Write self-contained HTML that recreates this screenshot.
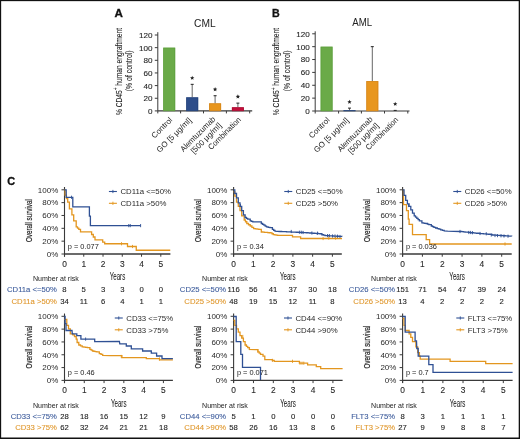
<!DOCTYPE html>
<html><head><meta charset="utf-8"><style>
html,body{margin:0;padding:0;background:#fff;}
body{width:520px;height:439px;overflow:hidden;}
svg{display:block;will-change:transform;font-family:"Liberation Sans",sans-serif;}
</style></head><body>
<svg width="520" height="439" viewBox="0 0 520 439">
<rect x="0" y="0" width="520" height="439" fill="#fff"/>
<text transform="translate(114.60,16.90) scale(1.0770,1)" font-size="10.8" text-anchor="start" fill="#111" font-weight="bold" stroke="#111" stroke-width="0.3">A</text>
<text transform="translate(194.10,26.50) scale(0.9933,1)" font-size="10.3" text-anchor="start" fill="#222">CML</text>
<line x1="157.80" y1="32.20" x2="157.80" y2="113.40" stroke="#3a3a3a" stroke-width="1"/>
<line x1="154.80" y1="110.90" x2="157.80" y2="110.90" stroke="#3a3a3a" stroke-width="1"/>
<text transform="translate(152.40,113.80)" font-size="8.1" text-anchor="end" fill="#2a2a2a" stroke="#222" stroke-width="0.12">0</text>
<line x1="154.80" y1="98.25" x2="157.80" y2="98.25" stroke="#3a3a3a" stroke-width="1"/>
<text transform="translate(152.40,101.15)" font-size="8.1" text-anchor="end" fill="#2a2a2a" stroke="#222" stroke-width="0.12">20</text>
<line x1="154.80" y1="85.60" x2="157.80" y2="85.60" stroke="#3a3a3a" stroke-width="1"/>
<text transform="translate(152.40,88.50)" font-size="8.1" text-anchor="end" fill="#2a2a2a" stroke="#222" stroke-width="0.12">40</text>
<line x1="154.80" y1="72.95" x2="157.80" y2="72.95" stroke="#3a3a3a" stroke-width="1"/>
<text transform="translate(152.40,75.85)" font-size="8.1" text-anchor="end" fill="#2a2a2a" stroke="#222" stroke-width="0.12">60</text>
<line x1="154.80" y1="60.30" x2="157.80" y2="60.30" stroke="#3a3a3a" stroke-width="1"/>
<text transform="translate(152.40,63.20)" font-size="8.1" text-anchor="end" fill="#2a2a2a" stroke="#222" stroke-width="0.12">80</text>
<line x1="154.80" y1="47.65" x2="157.80" y2="47.65" stroke="#3a3a3a" stroke-width="1"/>
<text transform="translate(152.40,50.55)" font-size="8.1" text-anchor="end" fill="#2a2a2a" stroke="#222" stroke-width="0.12">100</text>
<line x1="154.80" y1="35.00" x2="157.80" y2="35.00" stroke="#3a3a3a" stroke-width="1"/>
<text transform="translate(152.40,37.90)" font-size="8.1" text-anchor="end" fill="#2a2a2a" stroke="#222" stroke-width="0.12">120</text>
<line x1="157.80" y1="110.90" x2="252.20" y2="110.90" stroke="#3a3a3a" stroke-width="1.2"/>
<line x1="180.60" y1="110.90" x2="180.60" y2="113.40" stroke="#3a3a3a" stroke-width="1"/>
<line x1="203.50" y1="110.90" x2="203.50" y2="113.40" stroke="#3a3a3a" stroke-width="1"/>
<line x1="226.40" y1="110.90" x2="226.40" y2="113.40" stroke="#3a3a3a" stroke-width="1"/>
<line x1="249.70" y1="110.90" x2="249.70" y2="113.40" stroke="#3a3a3a" stroke-width="1"/>
<rect x="163.20" y="47.65" width="12.00" height="63.25" fill="#6aaa48"/>
<rect x="163.60" y="48.05" width="11.2" height="62.85" fill="none" stroke="#559a35" stroke-width="0.8" opacity="0.6"/>
<line x1="192.20" y1="84.34" x2="192.20" y2="97.30" stroke="#555" stroke-width="0.9"/>
<line x1="190.70" y1="84.34" x2="193.70" y2="84.34" stroke="#222" stroke-width="1"/>
<rect x="186.20" y="97.30" width="12.00" height="13.60" fill="#2d4d8a"/>
<rect x="186.60" y="97.70" width="11.2" height="13.20" fill="none" stroke="#1c3a70" stroke-width="0.8" opacity="0.6"/>
<polygon points="192.20,75.70 192.81,77.16 194.39,77.29 193.18,78.32 193.55,79.86 192.20,79.03 190.85,79.86 191.22,78.32 190.01,77.29 191.59,77.16" fill="#222"/>
<line x1="215.10" y1="95.72" x2="215.10" y2="103.31" stroke="#555" stroke-width="0.9"/>
<line x1="213.60" y1="95.72" x2="216.60" y2="95.72" stroke="#222" stroke-width="1"/>
<rect x="209.10" y="103.31" width="12.00" height="7.59" fill="#e8961e"/>
<rect x="209.50" y="103.71" width="11.2" height="7.19" fill="none" stroke="#c87a10" stroke-width="0.8" opacity="0.6"/>
<polygon points="215.10,87.10 215.71,88.56 217.29,88.69 216.08,89.72 216.45,91.26 215.10,90.44 213.75,91.26 214.12,89.72 212.91,88.69 214.49,88.56" fill="#222"/>
<line x1="237.90" y1="103.12" x2="237.90" y2="107.23" stroke="#555" stroke-width="0.9"/>
<line x1="236.40" y1="103.12" x2="239.40" y2="103.12" stroke="#222" stroke-width="1"/>
<rect x="231.90" y="107.23" width="12.00" height="3.67" fill="#c20f3b"/>
<rect x="232.30" y="107.63" width="11.2" height="3.27" fill="none" stroke="#9a0a2c" stroke-width="0.8" opacity="0.6"/>
<polygon points="237.90,94.30 238.51,95.76 240.09,95.89 238.88,96.92 239.25,98.46 237.90,97.63 236.55,98.46 236.92,96.92 235.71,95.89 237.29,95.76" fill="#222"/>
<text transform="translate(121.80,115.10) rotate(-90) scale(0.7187,1)" font-size="9.3" fill="#222" stroke="#222" stroke-width="0.1">% CD45<tspan font-size="6.5" dy="-3.6">+</tspan><tspan dy="3.6"> human engraftment</tspan></text>
<text transform="translate(132.30,70.80) rotate(-90) scale(0.7396,1)" font-size="9.3" text-anchor="middle" fill="#222" stroke="#222" stroke-width="0.1">(% of control)</text>
<text transform="translate(172.80,120.50) rotate(-45)" font-size="8.0" text-anchor="end" fill="#222">Control</text>
<text transform="translate(192.00,120.80) rotate(-45)" font-size="8.0" text-anchor="end" fill="#222">GO [5 μg/ml]</text>
<text transform="translate(215.90,119.70) rotate(-45) scale(0.9400,1)" font-size="8.0" text-anchor="end" fill="#222">Alemtuzumab</text>
<text transform="translate(222.15,125.95) rotate(-45)" font-size="8.0" text-anchor="end" fill="#222">[500 μg/ml]</text>
<text transform="translate(241.50,120.20) rotate(-45) scale(0.9500,1)" font-size="8.0" text-anchor="end" fill="#222">Combination</text>
<text transform="translate(271.90,16.60) scale(0.9872,1)" font-size="10.8" text-anchor="start" fill="#111" font-weight="bold" stroke="#111" stroke-width="0.3">B</text>
<text transform="translate(352.30,25.90) scale(0.9397,1)" font-size="10.3" text-anchor="start" fill="#222">AML</text>
<line x1="315.20" y1="31.30" x2="315.20" y2="113.50" stroke="#3a3a3a" stroke-width="1"/>
<line x1="312.20" y1="111.00" x2="315.20" y2="111.00" stroke="#3a3a3a" stroke-width="1"/>
<text transform="translate(309.80,113.90)" font-size="8.1" text-anchor="end" fill="#2a2a2a" stroke="#222" stroke-width="0.12">0</text>
<line x1="312.20" y1="98.13" x2="315.20" y2="98.13" stroke="#3a3a3a" stroke-width="1"/>
<text transform="translate(309.80,101.03)" font-size="8.1" text-anchor="end" fill="#2a2a2a" stroke="#222" stroke-width="0.12">20</text>
<line x1="312.20" y1="85.27" x2="315.20" y2="85.27" stroke="#3a3a3a" stroke-width="1"/>
<text transform="translate(309.80,88.17)" font-size="8.1" text-anchor="end" fill="#2a2a2a" stroke="#222" stroke-width="0.12">40</text>
<line x1="312.20" y1="72.40" x2="315.20" y2="72.40" stroke="#3a3a3a" stroke-width="1"/>
<text transform="translate(309.80,75.30)" font-size="8.1" text-anchor="end" fill="#2a2a2a" stroke="#222" stroke-width="0.12">60</text>
<line x1="312.20" y1="59.53" x2="315.20" y2="59.53" stroke="#3a3a3a" stroke-width="1"/>
<text transform="translate(309.80,62.43)" font-size="8.1" text-anchor="end" fill="#2a2a2a" stroke="#222" stroke-width="0.12">80</text>
<line x1="312.20" y1="46.67" x2="315.20" y2="46.67" stroke="#3a3a3a" stroke-width="1"/>
<text transform="translate(309.80,49.57)" font-size="8.1" text-anchor="end" fill="#2a2a2a" stroke="#222" stroke-width="0.12">100</text>
<line x1="312.20" y1="33.80" x2="315.20" y2="33.80" stroke="#3a3a3a" stroke-width="1"/>
<text transform="translate(309.80,36.70)" font-size="8.1" text-anchor="end" fill="#2a2a2a" stroke="#222" stroke-width="0.12">120</text>
<line x1="315.20" y1="111.00" x2="409.50" y2="111.00" stroke="#3a3a3a" stroke-width="1.2"/>
<line x1="338.60" y1="111.00" x2="338.60" y2="113.50" stroke="#3a3a3a" stroke-width="1"/>
<line x1="361.40" y1="111.00" x2="361.40" y2="113.50" stroke="#3a3a3a" stroke-width="1"/>
<line x1="384.50" y1="111.00" x2="384.50" y2="113.50" stroke="#3a3a3a" stroke-width="1"/>
<line x1="407.80" y1="111.00" x2="407.80" y2="113.50" stroke="#3a3a3a" stroke-width="1"/>
<rect x="320.60" y="46.67" width="12.00" height="64.33" fill="#6aaa48"/>
<rect x="321.00" y="47.07" width="11.2" height="63.93" fill="none" stroke="#559a35" stroke-width="0.8" opacity="0.6"/>
<line x1="349.50" y1="108.11" x2="349.50" y2="110.23" stroke="#555" stroke-width="0.9"/>
<line x1="348.00" y1="108.11" x2="351.00" y2="108.11" stroke="#222" stroke-width="1"/>
<rect x="343.50" y="110.23" width="12.00" height="0.77" fill="#2d4d8a"/>
<rect x="343.90" y="110.63" width="11.2" height="0.37" fill="none" stroke="#1c3a70" stroke-width="0.8" opacity="0.6"/>
<polygon points="349.50,99.70 350.11,101.16 351.69,101.29 350.48,102.32 350.85,103.86 349.50,103.03 348.15,103.86 348.52,102.32 347.31,101.29 348.89,101.16" fill="#222"/>
<line x1="372.30" y1="46.67" x2="372.30" y2="81.09" stroke="#555" stroke-width="0.9"/>
<line x1="370.80" y1="46.67" x2="373.80" y2="46.67" stroke="#222" stroke-width="1"/>
<rect x="366.30" y="81.09" width="12.00" height="29.91" fill="#e8961e"/>
<rect x="366.70" y="81.49" width="11.2" height="29.52" fill="none" stroke="#c87a10" stroke-width="0.8" opacity="0.6"/>
<line x1="393.70" y1="110.40" x2="396.70" y2="110.40" stroke="#222" stroke-width="1"/>
<polygon points="395.20,101.70 395.81,103.16 397.39,103.29 396.18,104.32 396.55,105.86 395.20,105.03 393.85,105.86 394.22,104.32 393.01,103.29 394.59,103.16" fill="#222"/>
<text transform="translate(279.20,115.20) rotate(-90) scale(0.7187,1)" font-size="9.3" fill="#222" stroke="#222" stroke-width="0.1">% CD45<tspan font-size="6.5" dy="-3.6">+</tspan><tspan dy="3.6"> human engraftment</tspan></text>
<text transform="translate(289.70,70.80) rotate(-90) scale(0.7396,1)" font-size="9.3" text-anchor="middle" fill="#222" stroke="#222" stroke-width="0.1">(% of control)</text>
<text transform="translate(330.20,120.60) rotate(-45)" font-size="8.0" text-anchor="end" fill="#222">Control</text>
<text transform="translate(349.30,120.90) rotate(-45)" font-size="8.0" text-anchor="end" fill="#222">GO [5 μg/ml]</text>
<text transform="translate(373.10,119.80) rotate(-45) scale(0.9400,1)" font-size="8.0" text-anchor="end" fill="#222">Alemtuzumab</text>
<text transform="translate(379.35,126.05) rotate(-45)" font-size="8.0" text-anchor="end" fill="#222">[500 μg/ml]</text>
<text transform="translate(398.80,120.30) rotate(-45) scale(0.9500,1)" font-size="8.0" text-anchor="end" fill="#222">Combination</text>
<text transform="translate(7.30,184.70) scale(1.0129,1)" font-size="10.8" text-anchor="start" fill="#111" font-weight="bold" stroke="#111" stroke-width="0.3">C</text>
<line x1="64.50" y1="187.00" x2="64.50" y2="256.70" stroke="#3a3a3a" stroke-width="1.1"/>
<line x1="61.50" y1="254.00" x2="64.50" y2="254.00" stroke="#3a3a3a" stroke-width="1"/>
<text transform="translate(58.30,256.80)" font-size="8.0" text-anchor="end" fill="#2a2a2a">0%</text>
<line x1="61.50" y1="241.16" x2="64.50" y2="241.16" stroke="#3a3a3a" stroke-width="1"/>
<text transform="translate(58.30,243.96)" font-size="8.0" text-anchor="end" fill="#2a2a2a">20%</text>
<line x1="61.50" y1="228.32" x2="64.50" y2="228.32" stroke="#3a3a3a" stroke-width="1"/>
<text transform="translate(58.30,231.12)" font-size="8.0" text-anchor="end" fill="#2a2a2a">40%</text>
<line x1="61.50" y1="215.48" x2="64.50" y2="215.48" stroke="#3a3a3a" stroke-width="1"/>
<text transform="translate(58.30,218.28)" font-size="8.0" text-anchor="end" fill="#2a2a2a">60%</text>
<line x1="61.50" y1="202.64" x2="64.50" y2="202.64" stroke="#3a3a3a" stroke-width="1"/>
<text transform="translate(58.30,205.44)" font-size="8.0" text-anchor="end" fill="#2a2a2a">80%</text>
<line x1="61.50" y1="189.80" x2="64.50" y2="189.80" stroke="#3a3a3a" stroke-width="1"/>
<text transform="translate(58.30,192.60)" font-size="8.0" text-anchor="end" fill="#2a2a2a">100%</text>
<line x1="64.50" y1="254.00" x2="170.40" y2="254.00" stroke="#3a3a3a" stroke-width="1.3"/>
<line x1="64.50" y1="254.00" x2="64.50" y2="256.70" stroke="#3a3a3a" stroke-width="1"/>
<text transform="translate(64.50,267.00)" font-size="8.4" text-anchor="middle" fill="#2a2a2a" stroke="#222" stroke-width="0.1">0</text>
<line x1="83.76" y1="254.00" x2="83.76" y2="256.70" stroke="#3a3a3a" stroke-width="1"/>
<text transform="translate(83.76,267.00)" font-size="8.4" text-anchor="middle" fill="#2a2a2a" stroke="#222" stroke-width="0.1">1</text>
<line x1="103.02" y1="254.00" x2="103.02" y2="256.70" stroke="#3a3a3a" stroke-width="1"/>
<text transform="translate(103.02,267.00)" font-size="8.4" text-anchor="middle" fill="#2a2a2a" stroke="#222" stroke-width="0.1">2</text>
<line x1="122.28" y1="254.00" x2="122.28" y2="256.70" stroke="#3a3a3a" stroke-width="1"/>
<text transform="translate(122.28,267.00)" font-size="8.4" text-anchor="middle" fill="#2a2a2a" stroke="#222" stroke-width="0.1">3</text>
<line x1="141.54" y1="254.00" x2="141.54" y2="256.70" stroke="#3a3a3a" stroke-width="1"/>
<text transform="translate(141.54,267.00)" font-size="8.4" text-anchor="middle" fill="#2a2a2a" stroke="#222" stroke-width="0.1">4</text>
<line x1="160.80" y1="254.00" x2="160.80" y2="256.70" stroke="#3a3a3a" stroke-width="1"/>
<text transform="translate(160.80,267.00)" font-size="8.4" text-anchor="middle" fill="#2a2a2a" stroke="#222" stroke-width="0.1">5</text>
<text transform="translate(31.50,220.60) rotate(-90) scale(0.6839,1)" font-size="9.2" text-anchor="middle" fill="#222" stroke="#222" stroke-width="0.18">Overall survival</text>
<text transform="translate(117.45,280.30) scale(0.6068,1)" font-size="10.2" text-anchor="middle" fill="#222" stroke="#222" stroke-width="0.05">Years</text>
<text transform="translate(33.00,281.20) scale(0.9032,1)" font-size="7.8" text-anchor="start" fill="#222">Number at risk</text>
<polyline points="64.50,189.80 65.10,189.80 65.10,195.20 66.40,195.20 66.40,198.65 67.70,198.65 67.70,202.10 69.40,202.10 69.40,208.90 71.90,208.90 71.90,214.90 73.70,214.90 73.70,220.80 76.20,220.80 76.20,226.80 77.50,226.80 77.50,228.10 78.80,228.10 78.80,229.40 80.50,229.40 80.50,231.90 89.90,231.90 91.60,231.90 91.60,234.50 93.30,234.50 93.30,237.00 95.00,237.00 95.00,239.90 101.00,239.90 102.70,239.90 102.70,242.20 104.70,242.20 104.70,243.75 127.50,243.75 127.50,246.50 136.25,246.50 136.25,250.25 170.25,250.25" fill="none" stroke="#e3961f" stroke-width="1.3" stroke-linejoin="miter"/>
<polyline points="64.50,189.80 66.20,189.80 66.20,197.30 72.80,197.30 72.80,206.80 89.40,206.80 89.40,216.20 90.40,216.20 90.40,225.60 140.60,225.60" fill="none" stroke="#2f5094" stroke-width="1.3" stroke-linejoin="miter"/>
<line x1="121.50" y1="242.15" x2="121.50" y2="245.35" stroke="#e3961f" stroke-width="0.9"/>
<line x1="132.50" y1="244.90" x2="132.50" y2="248.10" stroke="#e3961f" stroke-width="0.9"/>
<line x1="71.50" y1="195.70" x2="71.50" y2="198.90" stroke="#2f5094" stroke-width="0.9"/>
<line x1="128.75" y1="224.00" x2="128.75" y2="227.20" stroke="#2f5094" stroke-width="0.9"/>
<line x1="130.25" y1="224.00" x2="130.25" y2="227.20" stroke="#2f5094" stroke-width="0.9"/>
<line x1="140.60" y1="224.00" x2="140.60" y2="227.20" stroke="#2f5094" stroke-width="0.9"/>
<line x1="108.91" y1="191.50" x2="116.91" y2="191.50" stroke="#2f5094" stroke-width="1.1"/>
<line x1="112.91" y1="189.90" x2="112.91" y2="193.10" stroke="#2f5094" stroke-width="0.9"/>
<text transform="translate(120.41,194.20)" font-size="7.8" text-anchor="start" fill="#2a2a2a">CD11a &lt;=50%</text>
<line x1="108.91" y1="203.30" x2="116.91" y2="203.30" stroke="#e3961f" stroke-width="1.1"/>
<line x1="112.91" y1="201.70" x2="112.91" y2="204.90" stroke="#e3961f" stroke-width="0.9"/>
<text transform="translate(120.41,206.00)" font-size="7.8" text-anchor="start" fill="#2a2a2a">CD11a &gt;50%</text>
<text transform="translate(67.80,249.00)" font-size="7.4" text-anchor="start" fill="#222">p = 0.077</text>
<text transform="translate(56.90,292.20)" font-size="7.7" text-anchor="end" fill="#3d5c9c" stroke="#3d5c9c" stroke-width="0.1">CD11a &lt;=50%</text>
<text transform="translate(64.50,292.20)" font-size="7.7" text-anchor="middle" fill="#222" stroke="#222" stroke-width="0.1">8</text>
<text transform="translate(83.76,292.20)" font-size="7.7" text-anchor="middle" fill="#222" stroke="#222" stroke-width="0.1">5</text>
<text transform="translate(103.02,292.20)" font-size="7.7" text-anchor="middle" fill="#222" stroke="#222" stroke-width="0.1">3</text>
<text transform="translate(122.28,292.20)" font-size="7.7" text-anchor="middle" fill="#222" stroke="#222" stroke-width="0.1">3</text>
<text transform="translate(141.54,292.20)" font-size="7.7" text-anchor="middle" fill="#222" stroke="#222" stroke-width="0.1">0</text>
<text transform="translate(160.80,292.20)" font-size="7.7" text-anchor="middle" fill="#222" stroke="#222" stroke-width="0.1">0</text>
<text transform="translate(56.90,303.90)" font-size="7.7" text-anchor="end" fill="#e0982e" stroke="#e0982e" stroke-width="0.1">CD11a &gt;50%</text>
<text transform="translate(64.50,303.90)" font-size="7.7" text-anchor="middle" fill="#222" stroke="#222" stroke-width="0.1">34</text>
<text transform="translate(83.76,303.90)" font-size="7.7" text-anchor="middle" fill="#222" stroke="#222" stroke-width="0.1">11</text>
<text transform="translate(103.02,303.90)" font-size="7.7" text-anchor="middle" fill="#222" stroke="#222" stroke-width="0.1">6</text>
<text transform="translate(122.28,303.90)" font-size="7.7" text-anchor="middle" fill="#222" stroke="#222" stroke-width="0.1">4</text>
<text transform="translate(141.54,303.90)" font-size="7.7" text-anchor="middle" fill="#222" stroke="#222" stroke-width="0.1">1</text>
<text transform="translate(160.80,303.90)" font-size="7.7" text-anchor="middle" fill="#222" stroke="#222" stroke-width="0.1">1</text>
<line x1="233.60" y1="187.00" x2="233.60" y2="256.70" stroke="#3a3a3a" stroke-width="1.1"/>
<line x1="230.60" y1="254.00" x2="233.60" y2="254.00" stroke="#3a3a3a" stroke-width="1"/>
<text transform="translate(227.40,256.80)" font-size="8.0" text-anchor="end" fill="#2a2a2a">0%</text>
<line x1="230.60" y1="241.16" x2="233.60" y2="241.16" stroke="#3a3a3a" stroke-width="1"/>
<text transform="translate(227.40,243.96)" font-size="8.0" text-anchor="end" fill="#2a2a2a">20%</text>
<line x1="230.60" y1="228.32" x2="233.60" y2="228.32" stroke="#3a3a3a" stroke-width="1"/>
<text transform="translate(227.40,231.12)" font-size="8.0" text-anchor="end" fill="#2a2a2a">40%</text>
<line x1="230.60" y1="215.48" x2="233.60" y2="215.48" stroke="#3a3a3a" stroke-width="1"/>
<text transform="translate(227.40,218.28)" font-size="8.0" text-anchor="end" fill="#2a2a2a">60%</text>
<line x1="230.60" y1="202.64" x2="233.60" y2="202.64" stroke="#3a3a3a" stroke-width="1"/>
<text transform="translate(227.40,205.44)" font-size="8.0" text-anchor="end" fill="#2a2a2a">80%</text>
<line x1="230.60" y1="189.80" x2="233.60" y2="189.80" stroke="#3a3a3a" stroke-width="1"/>
<text transform="translate(227.40,192.60)" font-size="8.0" text-anchor="end" fill="#2a2a2a">100%</text>
<line x1="233.60" y1="254.00" x2="341.80" y2="254.00" stroke="#3a3a3a" stroke-width="1.3"/>
<line x1="233.60" y1="254.00" x2="233.60" y2="256.70" stroke="#3a3a3a" stroke-width="1"/>
<text transform="translate(233.60,267.00)" font-size="8.4" text-anchor="middle" fill="#2a2a2a" stroke="#222" stroke-width="0.1">0</text>
<line x1="253.36" y1="254.00" x2="253.36" y2="256.70" stroke="#3a3a3a" stroke-width="1"/>
<text transform="translate(253.36,267.00)" font-size="8.4" text-anchor="middle" fill="#2a2a2a" stroke="#222" stroke-width="0.1">1</text>
<line x1="273.12" y1="254.00" x2="273.12" y2="256.70" stroke="#3a3a3a" stroke-width="1"/>
<text transform="translate(273.12,267.00)" font-size="8.4" text-anchor="middle" fill="#2a2a2a" stroke="#222" stroke-width="0.1">2</text>
<line x1="292.88" y1="254.00" x2="292.88" y2="256.70" stroke="#3a3a3a" stroke-width="1"/>
<text transform="translate(292.88,267.00)" font-size="8.4" text-anchor="middle" fill="#2a2a2a" stroke="#222" stroke-width="0.1">3</text>
<line x1="312.64" y1="254.00" x2="312.64" y2="256.70" stroke="#3a3a3a" stroke-width="1"/>
<text transform="translate(312.64,267.00)" font-size="8.4" text-anchor="middle" fill="#2a2a2a" stroke="#222" stroke-width="0.1">4</text>
<line x1="332.40" y1="254.00" x2="332.40" y2="256.70" stroke="#3a3a3a" stroke-width="1"/>
<text transform="translate(332.40,267.00)" font-size="8.4" text-anchor="middle" fill="#2a2a2a" stroke="#222" stroke-width="0.1">5</text>
<text transform="translate(200.60,220.60) rotate(-90) scale(0.6839,1)" font-size="9.2" text-anchor="middle" fill="#222" stroke="#222" stroke-width="0.18">Overall survival</text>
<text transform="translate(287.70,280.30) scale(0.6068,1)" font-size="10.2" text-anchor="middle" fill="#222" stroke="#222" stroke-width="0.05">Years</text>
<text transform="translate(202.10,281.20) scale(0.9032,1)" font-size="7.8" text-anchor="start" fill="#222">Number at risk</text>
<polyline points="233.60,191.80 234.80,191.80 234.80,196.10 236.50,196.10 236.50,202.10 238.30,202.10 238.30,206.40 240.00,206.40 240.00,210.60 241.70,210.60 241.70,215.80 244.20,215.80 244.20,220.00 245.50,220.00 245.50,221.75 246.80,221.75 246.80,223.50 248.50,223.50 248.50,224.75 250.20,224.75 250.20,226.00 251.90,226.00 251.90,227.30 253.60,227.30 253.60,228.60 255.33,228.60 255.33,228.87 257.07,228.87 257.07,229.13 258.80,229.13 258.80,229.40 261.30,229.40 261.30,232.00 262.87,232.00 262.87,232.15 264.43,232.15 264.43,232.30 266.00,232.30 266.00,232.45 267.57,232.45 267.57,232.60 269.13,232.60 269.13,232.75 270.70,232.75 270.70,232.90 272.00,232.90 272.00,233.75 273.30,233.75 273.30,234.60 274.73,234.60 274.73,234.87 276.17,234.87 276.17,235.13 277.60,235.13 277.60,235.40 290.60,235.40 292.50,235.40 292.50,236.90 299.40,236.90 300.60,236.90 300.60,238.50 342.00,238.50" fill="none" stroke="#e3961f" stroke-width="1.3" stroke-linejoin="miter"/>
<polyline points="233.60,189.80 234.80,189.80 234.80,193.50 236.50,193.50 236.50,197.80 238.30,197.80 238.30,202.90 240.00,202.90 240.00,206.40 241.70,206.40 241.70,210.60 243.40,210.60 243.40,214.90 245.10,214.90 245.10,217.50 246.40,217.50 246.40,218.35 247.70,218.35 247.70,219.20 250.20,219.20 250.20,220.90 251.50,220.90 251.50,221.35 252.80,221.35 252.80,221.80 258.80,221.80 261.30,221.80 261.30,223.50 262.60,223.50 262.60,224.35 263.90,224.35 263.90,225.20 265.20,225.20 265.20,226.05 266.50,226.05 266.50,226.90 268.20,226.90 268.20,227.30 269.90,227.30 269.90,227.70 272.40,227.70 272.40,229.40 273.70,229.40 273.70,230.30 275.00,230.30 275.00,231.20 280.00,231.50 281.62,231.50 281.62,231.57 283.25,231.57 283.25,231.65 284.88,231.65 284.88,231.72 286.50,231.72 286.50,231.80 288.12,231.80 288.12,231.88 289.75,231.88 289.75,231.95 291.38,231.95 291.38,232.03 293.00,232.03 293.00,232.10 294.62,232.10 294.62,232.18 296.25,232.18 296.25,232.25 297.92,232.25 297.92,232.33 299.58,232.33 299.58,232.42 301.25,232.42 301.25,232.50 302.92,232.50 302.92,232.58 304.58,232.58 304.58,232.67 306.25,232.67 306.25,232.75 307.97,232.75 307.97,232.88 309.69,232.88 309.69,233.00 311.41,233.00 311.41,233.12 313.12,233.12 313.12,233.25 314.84,233.25 314.84,233.38 316.56,233.38 316.56,233.50 318.28,233.50 318.28,233.62 320.00,233.62 320.00,233.75 321.90,233.75 321.90,234.75 323.45,234.75 323.45,235.18 325.00,235.18 325.00,235.60 326.70,235.60 326.70,235.69 328.40,235.69 328.40,235.78 330.10,235.78 330.10,235.87 331.80,235.87 331.80,235.96 333.50,235.96 333.50,236.05 335.20,236.05 335.20,236.14 336.90,236.14 336.90,236.23 338.60,236.23 338.60,236.32 340.30,236.32 340.30,236.41 342.00,236.41 342.00,236.50" fill="none" stroke="#2f5094" stroke-width="1.3" stroke-linejoin="miter"/>
<line x1="323.10" y1="236.90" x2="323.10" y2="240.10" stroke="#e3961f" stroke-width="0.9"/>
<line x1="328.75" y1="236.50" x2="328.75" y2="239.70" stroke="#e3961f" stroke-width="0.9"/>
<line x1="335.60" y1="236.50" x2="335.60" y2="239.70" stroke="#e3961f" stroke-width="0.9"/>
<line x1="240.50" y1="203.90" x2="240.50" y2="207.10" stroke="#2f5094" stroke-width="0.9"/>
<line x1="291.25" y1="229.90" x2="291.25" y2="233.10" stroke="#2f5094" stroke-width="0.9"/>
<line x1="299.40" y1="230.65" x2="299.40" y2="233.85" stroke="#2f5094" stroke-width="0.9"/>
<line x1="301.25" y1="230.65" x2="301.25" y2="233.85" stroke="#2f5094" stroke-width="0.9"/>
<line x1="303.10" y1="230.90" x2="303.10" y2="234.10" stroke="#2f5094" stroke-width="0.9"/>
<line x1="311.90" y1="231.40" x2="311.90" y2="234.60" stroke="#2f5094" stroke-width="0.9"/>
<line x1="317.50" y1="231.60" x2="317.50" y2="234.80" stroke="#2f5094" stroke-width="0.9"/>
<line x1="327.50" y1="234.00" x2="327.50" y2="237.20" stroke="#2f5094" stroke-width="0.9"/>
<line x1="329.40" y1="234.00" x2="329.40" y2="237.20" stroke="#2f5094" stroke-width="0.9"/>
<line x1="332.50" y1="234.40" x2="332.50" y2="237.60" stroke="#2f5094" stroke-width="0.9"/>
<line x1="335.00" y1="234.40" x2="335.00" y2="237.60" stroke="#2f5094" stroke-width="0.9"/>
<line x1="337.50" y1="234.60" x2="337.50" y2="237.80" stroke="#2f5094" stroke-width="0.9"/>
<line x1="340.00" y1="234.90" x2="340.00" y2="238.10" stroke="#2f5094" stroke-width="0.9"/>
<line x1="284.27" y1="191.50" x2="292.27" y2="191.50" stroke="#2f5094" stroke-width="1.1"/>
<line x1="288.27" y1="189.90" x2="288.27" y2="193.10" stroke="#2f5094" stroke-width="0.9"/>
<text transform="translate(295.77,194.20)" font-size="7.8" text-anchor="start" fill="#2a2a2a">CD25 &lt;=50%</text>
<line x1="284.27" y1="203.30" x2="292.27" y2="203.30" stroke="#e3961f" stroke-width="1.1"/>
<line x1="288.27" y1="201.70" x2="288.27" y2="204.90" stroke="#e3961f" stroke-width="0.9"/>
<text transform="translate(295.77,206.00)" font-size="7.8" text-anchor="start" fill="#2a2a2a">CD25 &gt;50%</text>
<text transform="translate(236.90,249.00)" font-size="7.4" text-anchor="start" fill="#222">p = 0.34</text>
<text transform="translate(226.00,292.20)" font-size="7.7" text-anchor="end" fill="#3d5c9c" stroke="#3d5c9c" stroke-width="0.1">CD25 &lt;=50%</text>
<text transform="translate(233.60,292.20)" font-size="7.7" text-anchor="middle" fill="#222" stroke="#222" stroke-width="0.1">116</text>
<text transform="translate(253.36,292.20)" font-size="7.7" text-anchor="middle" fill="#222" stroke="#222" stroke-width="0.1">56</text>
<text transform="translate(273.12,292.20)" font-size="7.7" text-anchor="middle" fill="#222" stroke="#222" stroke-width="0.1">41</text>
<text transform="translate(292.88,292.20)" font-size="7.7" text-anchor="middle" fill="#222" stroke="#222" stroke-width="0.1">37</text>
<text transform="translate(312.64,292.20)" font-size="7.7" text-anchor="middle" fill="#222" stroke="#222" stroke-width="0.1">30</text>
<text transform="translate(332.40,292.20)" font-size="7.7" text-anchor="middle" fill="#222" stroke="#222" stroke-width="0.1">18</text>
<text transform="translate(226.00,303.90)" font-size="7.7" text-anchor="end" fill="#e0982e" stroke="#e0982e" stroke-width="0.1">CD25 &gt;50%</text>
<text transform="translate(233.60,303.90)" font-size="7.7" text-anchor="middle" fill="#222" stroke="#222" stroke-width="0.1">48</text>
<text transform="translate(253.36,303.90)" font-size="7.7" text-anchor="middle" fill="#222" stroke="#222" stroke-width="0.1">19</text>
<text transform="translate(273.12,303.90)" font-size="7.7" text-anchor="middle" fill="#222" stroke="#222" stroke-width="0.1">15</text>
<text transform="translate(292.88,303.90)" font-size="7.7" text-anchor="middle" fill="#222" stroke="#222" stroke-width="0.1">12</text>
<text transform="translate(312.64,303.90)" font-size="7.7" text-anchor="middle" fill="#222" stroke="#222" stroke-width="0.1">11</text>
<text transform="translate(332.40,303.90)" font-size="7.7" text-anchor="middle" fill="#222" stroke="#222" stroke-width="0.1">8</text>
<line x1="402.60" y1="187.00" x2="402.60" y2="256.70" stroke="#3a3a3a" stroke-width="1.1"/>
<line x1="399.60" y1="254.00" x2="402.60" y2="254.00" stroke="#3a3a3a" stroke-width="1"/>
<text transform="translate(396.40,256.80)" font-size="8.0" text-anchor="end" fill="#2a2a2a">0%</text>
<line x1="399.60" y1="241.16" x2="402.60" y2="241.16" stroke="#3a3a3a" stroke-width="1"/>
<text transform="translate(396.40,243.96)" font-size="8.0" text-anchor="end" fill="#2a2a2a">20%</text>
<line x1="399.60" y1="228.32" x2="402.60" y2="228.32" stroke="#3a3a3a" stroke-width="1"/>
<text transform="translate(396.40,231.12)" font-size="8.0" text-anchor="end" fill="#2a2a2a">40%</text>
<line x1="399.60" y1="215.48" x2="402.60" y2="215.48" stroke="#3a3a3a" stroke-width="1"/>
<text transform="translate(396.40,218.28)" font-size="8.0" text-anchor="end" fill="#2a2a2a">60%</text>
<line x1="399.60" y1="202.64" x2="402.60" y2="202.64" stroke="#3a3a3a" stroke-width="1"/>
<text transform="translate(396.40,205.44)" font-size="8.0" text-anchor="end" fill="#2a2a2a">80%</text>
<line x1="399.60" y1="189.80" x2="402.60" y2="189.80" stroke="#3a3a3a" stroke-width="1"/>
<text transform="translate(396.40,192.60)" font-size="8.0" text-anchor="end" fill="#2a2a2a">100%</text>
<line x1="402.60" y1="254.00" x2="511.70" y2="254.00" stroke="#3a3a3a" stroke-width="1.3"/>
<line x1="402.60" y1="254.00" x2="402.60" y2="256.70" stroke="#3a3a3a" stroke-width="1"/>
<text transform="translate(402.60,267.00)" font-size="8.4" text-anchor="middle" fill="#2a2a2a" stroke="#222" stroke-width="0.1">0</text>
<line x1="422.42" y1="254.00" x2="422.42" y2="256.70" stroke="#3a3a3a" stroke-width="1"/>
<text transform="translate(422.42,267.00)" font-size="8.4" text-anchor="middle" fill="#2a2a2a" stroke="#222" stroke-width="0.1">1</text>
<line x1="442.24" y1="254.00" x2="442.24" y2="256.70" stroke="#3a3a3a" stroke-width="1"/>
<text transform="translate(442.24,267.00)" font-size="8.4" text-anchor="middle" fill="#2a2a2a" stroke="#222" stroke-width="0.1">2</text>
<line x1="462.06" y1="254.00" x2="462.06" y2="256.70" stroke="#3a3a3a" stroke-width="1"/>
<text transform="translate(462.06,267.00)" font-size="8.4" text-anchor="middle" fill="#2a2a2a" stroke="#222" stroke-width="0.1">3</text>
<line x1="481.88" y1="254.00" x2="481.88" y2="256.70" stroke="#3a3a3a" stroke-width="1"/>
<text transform="translate(481.88,267.00)" font-size="8.4" text-anchor="middle" fill="#2a2a2a" stroke="#222" stroke-width="0.1">4</text>
<line x1="501.70" y1="254.00" x2="501.70" y2="256.70" stroke="#3a3a3a" stroke-width="1"/>
<text transform="translate(501.70,267.00)" font-size="8.4" text-anchor="middle" fill="#2a2a2a" stroke="#222" stroke-width="0.1">5</text>
<text transform="translate(369.60,220.60) rotate(-90) scale(0.6839,1)" font-size="9.2" text-anchor="middle" fill="#222" stroke="#222" stroke-width="0.18">Overall survival</text>
<text transform="translate(457.15,280.30) scale(0.6068,1)" font-size="10.2" text-anchor="middle" fill="#222" stroke="#222" stroke-width="0.05">Years</text>
<text transform="translate(371.10,281.20) scale(0.9032,1)" font-size="7.8" text-anchor="start" fill="#222">Number at risk</text>
<polyline points="402.80,189.80 403.50,189.80 403.50,204.70 405.70,204.70 406.50,204.70 406.50,210.60 408.30,210.60 408.30,219.20 409.10,219.20 409.10,224.30 412.50,224.30 412.50,234.60 426.20,234.60 426.20,239.70 429.60,239.70 429.60,244.00 511.70,244.00" fill="none" stroke="#e3961f" stroke-width="1.3" stroke-linejoin="miter"/>
<polyline points="402.80,189.80 404.00,189.80 404.00,195.30 405.70,195.30 405.70,200.40 407.40,200.40 407.40,203.80 409.10,203.80 409.10,206.40 410.80,206.40 410.80,209.80 412.50,209.80 412.50,213.20 414.20,213.20 414.20,215.80 415.50,215.80 415.50,217.05 416.80,217.05 416.80,218.30 418.10,218.30 418.10,219.60 419.40,219.60 419.40,220.90 421.90,220.90 421.90,222.90 423.33,222.90 423.33,223.10 424.77,223.10 424.77,223.30 426.20,223.30 426.20,223.50 427.50,223.50 427.50,224.10 428.80,224.10 428.80,224.70 431.30,224.70 431.30,226.00 432.60,226.00 432.60,226.70 433.90,226.70 433.90,227.40 435.60,227.40 435.60,228.00 437.30,228.00 437.30,228.60 439.00,228.60 439.00,229.20 440.70,229.20 440.70,229.80 442.45,229.80 442.45,230.30 444.20,230.30 444.20,230.80 447.60,231.20 460.00,231.50 461.67,231.50 461.67,231.68 463.33,231.68 463.33,231.86 465.00,231.86 465.00,232.03 466.67,232.03 466.67,232.21 468.33,232.21 468.33,232.39 470.00,232.39 470.00,232.57 471.67,232.57 471.67,232.74 473.33,232.74 473.33,232.92 475.00,232.92 475.00,233.10 476.67,233.10 476.67,233.24 478.33,233.24 478.33,233.39 480.00,233.39 480.00,233.53 481.67,233.53 481.67,233.68 483.33,233.68 483.33,233.82 485.00,233.82 485.00,233.97 486.67,233.97 486.67,234.11 488.33,234.11 488.33,234.26 490.00,234.26 490.00,234.40 492.00,234.40 492.00,235.00 493.64,235.00 493.64,235.10 495.28,235.10 495.28,235.21 496.93,235.21 496.93,235.31 498.57,235.31 498.57,235.42 500.21,235.42 500.21,235.52 501.85,235.52 501.85,235.62 503.49,235.62 503.49,235.73 505.13,235.73 505.13,235.83 506.77,235.83 506.77,235.94 508.42,235.94 508.42,236.04 510.06,236.04 510.06,236.15 511.70,236.15 511.70,236.25" fill="none" stroke="#2f5094" stroke-width="1.3" stroke-linejoin="miter"/>
<line x1="505.00" y1="242.40" x2="505.00" y2="245.60" stroke="#e3961f" stroke-width="0.9"/>
<line x1="408.50" y1="203.90" x2="408.50" y2="207.10" stroke="#2f5094" stroke-width="0.9"/>
<line x1="460.00" y1="229.90" x2="460.00" y2="233.10" stroke="#2f5094" stroke-width="0.9"/>
<line x1="468.75" y1="230.90" x2="468.75" y2="234.10" stroke="#2f5094" stroke-width="0.9"/>
<line x1="470.60" y1="230.90" x2="470.60" y2="234.10" stroke="#2f5094" stroke-width="0.9"/>
<line x1="472.50" y1="231.10" x2="472.50" y2="234.30" stroke="#2f5094" stroke-width="0.9"/>
<line x1="480.00" y1="231.90" x2="480.00" y2="235.10" stroke="#2f5094" stroke-width="0.9"/>
<line x1="486.25" y1="232.20" x2="486.25" y2="235.40" stroke="#2f5094" stroke-width="0.9"/>
<line x1="491.25" y1="233.40" x2="491.25" y2="236.60" stroke="#2f5094" stroke-width="0.9"/>
<line x1="495.00" y1="233.90" x2="495.00" y2="237.10" stroke="#2f5094" stroke-width="0.9"/>
<line x1="497.50" y1="234.00" x2="497.50" y2="237.20" stroke="#2f5094" stroke-width="0.9"/>
<line x1="501.00" y1="234.20" x2="501.00" y2="237.40" stroke="#2f5094" stroke-width="0.9"/>
<line x1="504.00" y1="234.40" x2="504.00" y2="237.60" stroke="#2f5094" stroke-width="0.9"/>
<line x1="508.00" y1="234.60" x2="508.00" y2="237.80" stroke="#2f5094" stroke-width="0.9"/>
<line x1="453.27" y1="191.50" x2="461.27" y2="191.50" stroke="#2f5094" stroke-width="1.1"/>
<line x1="457.27" y1="189.90" x2="457.27" y2="193.10" stroke="#2f5094" stroke-width="0.9"/>
<text transform="translate(464.77,194.20)" font-size="7.8" text-anchor="start" fill="#2a2a2a">CD26 &lt;=50%</text>
<line x1="453.27" y1="203.30" x2="461.27" y2="203.30" stroke="#e3961f" stroke-width="1.1"/>
<line x1="457.27" y1="201.70" x2="457.27" y2="204.90" stroke="#e3961f" stroke-width="0.9"/>
<text transform="translate(464.77,206.00)" font-size="7.8" text-anchor="start" fill="#2a2a2a">CD26 &gt;50%</text>
<text transform="translate(405.90,249.00)" font-size="7.4" text-anchor="start" fill="#222">p = 0.036</text>
<text transform="translate(395.00,292.20)" font-size="7.7" text-anchor="end" fill="#3d5c9c" stroke="#3d5c9c" stroke-width="0.1">CD26 &lt;=50%</text>
<text transform="translate(402.60,292.20)" font-size="7.7" text-anchor="middle" fill="#222" stroke="#222" stroke-width="0.1">151</text>
<text transform="translate(422.42,292.20)" font-size="7.7" text-anchor="middle" fill="#222" stroke="#222" stroke-width="0.1">71</text>
<text transform="translate(442.24,292.20)" font-size="7.7" text-anchor="middle" fill="#222" stroke="#222" stroke-width="0.1">54</text>
<text transform="translate(462.06,292.20)" font-size="7.7" text-anchor="middle" fill="#222" stroke="#222" stroke-width="0.1">47</text>
<text transform="translate(481.88,292.20)" font-size="7.7" text-anchor="middle" fill="#222" stroke="#222" stroke-width="0.1">39</text>
<text transform="translate(501.70,292.20)" font-size="7.7" text-anchor="middle" fill="#222" stroke="#222" stroke-width="0.1">24</text>
<text transform="translate(395.00,303.90)" font-size="7.7" text-anchor="end" fill="#e0982e" stroke="#e0982e" stroke-width="0.1">CD26 &gt;50%</text>
<text transform="translate(402.60,303.90)" font-size="7.7" text-anchor="middle" fill="#222" stroke="#222" stroke-width="0.1">13</text>
<text transform="translate(422.42,303.90)" font-size="7.7" text-anchor="middle" fill="#222" stroke="#222" stroke-width="0.1">4</text>
<text transform="translate(442.24,303.90)" font-size="7.7" text-anchor="middle" fill="#222" stroke="#222" stroke-width="0.1">2</text>
<text transform="translate(462.06,303.90)" font-size="7.7" text-anchor="middle" fill="#222" stroke="#222" stroke-width="0.1">2</text>
<text transform="translate(481.88,303.90)" font-size="7.7" text-anchor="middle" fill="#222" stroke="#222" stroke-width="0.1">2</text>
<text transform="translate(501.70,303.90)" font-size="7.7" text-anchor="middle" fill="#222" stroke="#222" stroke-width="0.1">2</text>
<line x1="64.50" y1="313.50" x2="64.50" y2="383.10" stroke="#3a3a3a" stroke-width="1.1"/>
<line x1="61.50" y1="380.40" x2="64.50" y2="380.40" stroke="#3a3a3a" stroke-width="1"/>
<text transform="translate(58.30,383.20)" font-size="8.0" text-anchor="end" fill="#2a2a2a">0%</text>
<line x1="61.50" y1="367.58" x2="64.50" y2="367.58" stroke="#3a3a3a" stroke-width="1"/>
<text transform="translate(58.30,370.38)" font-size="8.0" text-anchor="end" fill="#2a2a2a">20%</text>
<line x1="61.50" y1="354.76" x2="64.50" y2="354.76" stroke="#3a3a3a" stroke-width="1"/>
<text transform="translate(58.30,357.56)" font-size="8.0" text-anchor="end" fill="#2a2a2a">40%</text>
<line x1="61.50" y1="341.94" x2="64.50" y2="341.94" stroke="#3a3a3a" stroke-width="1"/>
<text transform="translate(58.30,344.74)" font-size="8.0" text-anchor="end" fill="#2a2a2a">60%</text>
<line x1="61.50" y1="329.12" x2="64.50" y2="329.12" stroke="#3a3a3a" stroke-width="1"/>
<text transform="translate(58.30,331.92)" font-size="8.0" text-anchor="end" fill="#2a2a2a">80%</text>
<line x1="61.50" y1="316.30" x2="64.50" y2="316.30" stroke="#3a3a3a" stroke-width="1"/>
<text transform="translate(58.30,319.10)" font-size="8.0" text-anchor="end" fill="#2a2a2a">100%</text>
<line x1="64.50" y1="380.40" x2="172.90" y2="380.40" stroke="#3a3a3a" stroke-width="1.3"/>
<line x1="64.50" y1="380.40" x2="64.50" y2="383.10" stroke="#3a3a3a" stroke-width="1"/>
<text transform="translate(64.50,393.40)" font-size="8.4" text-anchor="middle" fill="#2a2a2a" stroke="#222" stroke-width="0.1">0</text>
<line x1="84.28" y1="380.40" x2="84.28" y2="383.10" stroke="#3a3a3a" stroke-width="1"/>
<text transform="translate(84.28,393.40)" font-size="8.4" text-anchor="middle" fill="#2a2a2a" stroke="#222" stroke-width="0.1">1</text>
<line x1="104.06" y1="380.40" x2="104.06" y2="383.10" stroke="#3a3a3a" stroke-width="1"/>
<text transform="translate(104.06,393.40)" font-size="8.4" text-anchor="middle" fill="#2a2a2a" stroke="#222" stroke-width="0.1">2</text>
<line x1="123.84" y1="380.40" x2="123.84" y2="383.10" stroke="#3a3a3a" stroke-width="1"/>
<text transform="translate(123.84,393.40)" font-size="8.4" text-anchor="middle" fill="#2a2a2a" stroke="#222" stroke-width="0.1">3</text>
<line x1="143.62" y1="380.40" x2="143.62" y2="383.10" stroke="#3a3a3a" stroke-width="1"/>
<text transform="translate(143.62,393.40)" font-size="8.4" text-anchor="middle" fill="#2a2a2a" stroke="#222" stroke-width="0.1">4</text>
<line x1="163.40" y1="380.40" x2="163.40" y2="383.10" stroke="#3a3a3a" stroke-width="1"/>
<text transform="translate(163.40,393.40)" font-size="8.4" text-anchor="middle" fill="#2a2a2a" stroke="#222" stroke-width="0.1">5</text>
<text transform="translate(31.50,347.05) rotate(-90) scale(0.6839,1)" font-size="9.2" text-anchor="middle" fill="#222" stroke="#222" stroke-width="0.18">Overall survival</text>
<text transform="translate(118.70,406.70) scale(0.6068,1)" font-size="10.2" text-anchor="middle" fill="#222" stroke="#222" stroke-width="0.05">Years</text>
<text transform="translate(33.00,407.60) scale(0.9032,1)" font-size="7.8" text-anchor="start" fill="#222">Number at risk</text>
<polyline points="64.30,319.40 66.80,319.40 66.80,325.40 68.50,325.40 68.50,328.80 70.30,328.80 70.30,333.90 72.80,333.90 72.80,334.80 74.50,334.80 74.50,336.50 76.20,336.50 76.20,339.10 77.10,339.10 77.10,342.50 78.80,342.50 78.80,345.00 80.50,345.00 80.50,345.90 82.20,345.90 82.20,346.80 83.93,346.80 83.93,347.07 85.67,347.07 85.67,347.33 87.40,347.33 87.40,347.60 89.90,347.60 89.90,349.30 91.20,349.30 91.20,350.15 92.50,350.15 92.50,351.00 93.93,351.00 93.93,351.30 95.37,351.30 95.37,351.60 96.80,351.60 96.80,351.90 99.30,351.90 99.30,353.60 101.00,353.60 101.00,354.45 102.70,354.45 102.70,355.30 110.00,355.70 121.30,355.70 121.90,355.70 121.90,357.60 146.30,357.60 146.30,358.60 159.50,358.60 159.50,359.80 172.90,359.80" fill="none" stroke="#e3961f" stroke-width="1.3" stroke-linejoin="miter"/>
<polyline points="64.30,316.50 65.10,316.50 65.10,323.70 66.00,323.70 66.00,330.50 72.00,330.50 72.30,333.90 76.20,333.90 76.80,333.90 76.80,335.60 80.50,335.60 80.90,335.60 80.90,339.10 94.20,339.10 94.70,339.10 94.70,341.60 119.40,341.50 119.80,343.80 126.30,343.80 126.30,346.00 131.30,346.00 131.30,348.80 142.60,348.80 142.60,351.00 151.30,351.00 151.30,353.20 156.60,353.20 156.60,356.00 162.00,356.00 162.00,358.60 172.90,358.60" fill="none" stroke="#2f5094" stroke-width="1.3" stroke-linejoin="miter"/>
<line x1="121.30" y1="354.90" x2="121.30" y2="358.10" stroke="#e3961f" stroke-width="0.9"/>
<line x1="159.50" y1="357.40" x2="159.50" y2="360.60" stroke="#e3961f" stroke-width="0.9"/>
<line x1="85.60" y1="337.50" x2="85.60" y2="340.70" stroke="#2f5094" stroke-width="0.9"/>
<line x1="114.77" y1="318.00" x2="122.77" y2="318.00" stroke="#2f5094" stroke-width="1.1"/>
<line x1="118.77" y1="316.40" x2="118.77" y2="319.60" stroke="#2f5094" stroke-width="0.9"/>
<text transform="translate(126.27,320.70)" font-size="7.8" text-anchor="start" fill="#2a2a2a">CD33 &lt;=75%</text>
<line x1="114.77" y1="329.80" x2="122.77" y2="329.80" stroke="#e3961f" stroke-width="1.1"/>
<line x1="118.77" y1="328.20" x2="118.77" y2="331.40" stroke="#e3961f" stroke-width="0.9"/>
<text transform="translate(126.27,332.50)" font-size="7.8" text-anchor="start" fill="#2a2a2a">CD33 &gt;75%</text>
<text transform="translate(67.80,375.40)" font-size="7.4" text-anchor="start" fill="#222">p = 0.46</text>
<text transform="translate(56.90,418.60)" font-size="7.7" text-anchor="end" fill="#3d5c9c" stroke="#3d5c9c" stroke-width="0.1">CD33 &lt;=75%</text>
<text transform="translate(64.50,418.60)" font-size="7.7" text-anchor="middle" fill="#222" stroke="#222" stroke-width="0.1">28</text>
<text transform="translate(84.28,418.60)" font-size="7.7" text-anchor="middle" fill="#222" stroke="#222" stroke-width="0.1">18</text>
<text transform="translate(104.06,418.60)" font-size="7.7" text-anchor="middle" fill="#222" stroke="#222" stroke-width="0.1">16</text>
<text transform="translate(123.84,418.60)" font-size="7.7" text-anchor="middle" fill="#222" stroke="#222" stroke-width="0.1">15</text>
<text transform="translate(143.62,418.60)" font-size="7.7" text-anchor="middle" fill="#222" stroke="#222" stroke-width="0.1">12</text>
<text transform="translate(163.40,418.60)" font-size="7.7" text-anchor="middle" fill="#222" stroke="#222" stroke-width="0.1">9</text>
<text transform="translate(56.90,430.30)" font-size="7.7" text-anchor="end" fill="#e0982e" stroke="#e0982e" stroke-width="0.1">CD33 &gt;75%</text>
<text transform="translate(64.50,430.30)" font-size="7.7" text-anchor="middle" fill="#222" stroke="#222" stroke-width="0.1">62</text>
<text transform="translate(84.28,430.30)" font-size="7.7" text-anchor="middle" fill="#222" stroke="#222" stroke-width="0.1">32</text>
<text transform="translate(104.06,430.30)" font-size="7.7" text-anchor="middle" fill="#222" stroke="#222" stroke-width="0.1">24</text>
<text transform="translate(123.84,430.30)" font-size="7.7" text-anchor="middle" fill="#222" stroke="#222" stroke-width="0.1">21</text>
<text transform="translate(143.62,430.30)" font-size="7.7" text-anchor="middle" fill="#222" stroke="#222" stroke-width="0.1">21</text>
<text transform="translate(163.40,430.30)" font-size="7.7" text-anchor="middle" fill="#222" stroke="#222" stroke-width="0.1">18</text>
<line x1="233.60" y1="313.50" x2="233.60" y2="383.10" stroke="#3a3a3a" stroke-width="1.1"/>
<line x1="230.60" y1="380.40" x2="233.60" y2="380.40" stroke="#3a3a3a" stroke-width="1"/>
<text transform="translate(227.40,383.20)" font-size="8.0" text-anchor="end" fill="#2a2a2a">0%</text>
<line x1="230.60" y1="367.58" x2="233.60" y2="367.58" stroke="#3a3a3a" stroke-width="1"/>
<text transform="translate(227.40,370.38)" font-size="8.0" text-anchor="end" fill="#2a2a2a">20%</text>
<line x1="230.60" y1="354.76" x2="233.60" y2="354.76" stroke="#3a3a3a" stroke-width="1"/>
<text transform="translate(227.40,357.56)" font-size="8.0" text-anchor="end" fill="#2a2a2a">40%</text>
<line x1="230.60" y1="341.94" x2="233.60" y2="341.94" stroke="#3a3a3a" stroke-width="1"/>
<text transform="translate(227.40,344.74)" font-size="8.0" text-anchor="end" fill="#2a2a2a">60%</text>
<line x1="230.60" y1="329.12" x2="233.60" y2="329.12" stroke="#3a3a3a" stroke-width="1"/>
<text transform="translate(227.40,331.92)" font-size="8.0" text-anchor="end" fill="#2a2a2a">80%</text>
<line x1="230.60" y1="316.30" x2="233.60" y2="316.30" stroke="#3a3a3a" stroke-width="1"/>
<text transform="translate(227.40,319.10)" font-size="8.0" text-anchor="end" fill="#2a2a2a">100%</text>
<line x1="233.60" y1="380.40" x2="342.60" y2="380.40" stroke="#3a3a3a" stroke-width="1.3"/>
<line x1="233.60" y1="380.40" x2="233.60" y2="383.10" stroke="#3a3a3a" stroke-width="1"/>
<text transform="translate(233.60,393.40)" font-size="8.4" text-anchor="middle" fill="#2a2a2a" stroke="#222" stroke-width="0.1">0</text>
<line x1="253.46" y1="380.40" x2="253.46" y2="383.10" stroke="#3a3a3a" stroke-width="1"/>
<text transform="translate(253.46,393.40)" font-size="8.4" text-anchor="middle" fill="#2a2a2a" stroke="#222" stroke-width="0.1">1</text>
<line x1="273.32" y1="380.40" x2="273.32" y2="383.10" stroke="#3a3a3a" stroke-width="1"/>
<text transform="translate(273.32,393.40)" font-size="8.4" text-anchor="middle" fill="#2a2a2a" stroke="#222" stroke-width="0.1">2</text>
<line x1="293.18" y1="380.40" x2="293.18" y2="383.10" stroke="#3a3a3a" stroke-width="1"/>
<text transform="translate(293.18,393.40)" font-size="8.4" text-anchor="middle" fill="#2a2a2a" stroke="#222" stroke-width="0.1">3</text>
<line x1="313.04" y1="380.40" x2="313.04" y2="383.10" stroke="#3a3a3a" stroke-width="1"/>
<text transform="translate(313.04,393.40)" font-size="8.4" text-anchor="middle" fill="#2a2a2a" stroke="#222" stroke-width="0.1">4</text>
<line x1="332.90" y1="380.40" x2="332.90" y2="383.10" stroke="#3a3a3a" stroke-width="1"/>
<text transform="translate(332.90,393.40)" font-size="8.4" text-anchor="middle" fill="#2a2a2a" stroke="#222" stroke-width="0.1">5</text>
<text transform="translate(200.60,347.05) rotate(-90) scale(0.6839,1)" font-size="9.2" text-anchor="middle" fill="#222" stroke="#222" stroke-width="0.18">Overall survival</text>
<text transform="translate(288.10,406.70) scale(0.6068,1)" font-size="10.2" text-anchor="middle" fill="#222" stroke="#222" stroke-width="0.05">Years</text>
<text transform="translate(202.10,407.60) scale(0.9032,1)" font-size="7.8" text-anchor="start" fill="#222">Number at risk</text>
<polyline points="233.60,320.30 234.80,320.30 234.80,325.40 236.50,325.40 236.50,328.80 238.30,328.80 238.30,332.20 240.00,332.20 240.00,335.60 241.70,335.60 241.70,338.20 243.40,338.20 243.40,341.60 245.10,341.60 245.10,345.00 246.40,345.00 246.40,346.30 247.70,346.30 247.70,347.60 249.40,347.60 249.40,349.30 255.40,349.70 257.90,349.70 257.90,351.90 259.20,351.90 259.20,353.15 260.50,353.15 260.50,354.40 263.00,354.40 263.00,356.20 264.80,356.20 264.80,359.60 270.70,359.60 272.45,359.60 272.45,360.45 274.20,360.45 274.20,361.30 298.20,361.30 299.40,361.30 299.40,363.20 306.90,363.20 307.60,363.20 307.60,364.80 315.70,364.80 316.30,364.80 316.30,366.60 320.10,366.60 320.70,366.60 320.70,368.60 342.60,368.60" fill="none" stroke="#e3961f" stroke-width="1.3" stroke-linejoin="miter"/>
<polyline points="233.60,316.50 236.20,316.50 236.20,341.60 240.30,341.60 240.80,341.60 240.80,354.40 242.00,354.40 242.50,354.40 242.50,367.30 260.50,367.30 260.50,380.10" fill="none" stroke="#2f5094" stroke-width="1.3" stroke-linejoin="miter"/>
<line x1="242.80" y1="334.90" x2="242.80" y2="338.10" stroke="#e3961f" stroke-width="0.9"/>
<line x1="249.40" y1="346.90" x2="249.40" y2="350.10" stroke="#e3961f" stroke-width="0.9"/>
<line x1="257.90" y1="349.40" x2="257.90" y2="352.60" stroke="#e3961f" stroke-width="0.9"/>
<line x1="272.40" y1="358.80" x2="272.40" y2="362.00" stroke="#e3961f" stroke-width="0.9"/>
<line x1="292.50" y1="359.70" x2="292.50" y2="362.90" stroke="#e3961f" stroke-width="0.9"/>
<line x1="300.00" y1="361.60" x2="300.00" y2="364.80" stroke="#e3961f" stroke-width="0.9"/>
<line x1="302.00" y1="361.60" x2="302.00" y2="364.80" stroke="#e3961f" stroke-width="0.9"/>
<line x1="303.80" y1="361.60" x2="303.80" y2="364.80" stroke="#e3961f" stroke-width="0.9"/>
<line x1="283.97" y1="318.00" x2="291.97" y2="318.00" stroke="#2f5094" stroke-width="1.1"/>
<line x1="287.97" y1="316.40" x2="287.97" y2="319.60" stroke="#2f5094" stroke-width="0.9"/>
<text transform="translate(295.47,320.70)" font-size="7.8" text-anchor="start" fill="#2a2a2a">CD44 &lt;=90%</text>
<line x1="283.97" y1="329.80" x2="291.97" y2="329.80" stroke="#e3961f" stroke-width="1.1"/>
<line x1="287.97" y1="328.20" x2="287.97" y2="331.40" stroke="#e3961f" stroke-width="0.9"/>
<text transform="translate(295.47,332.50)" font-size="7.8" text-anchor="start" fill="#2a2a2a">CD44 &gt;90%</text>
<text transform="translate(236.90,375.40)" font-size="7.4" text-anchor="start" fill="#222">p = 0.071</text>
<text transform="translate(226.00,418.60)" font-size="7.7" text-anchor="end" fill="#3d5c9c" stroke="#3d5c9c" stroke-width="0.1">CD44 &lt;=90%</text>
<text transform="translate(233.60,418.60)" font-size="7.7" text-anchor="middle" fill="#222" stroke="#222" stroke-width="0.1">5</text>
<text transform="translate(253.46,418.60)" font-size="7.7" text-anchor="middle" fill="#222" stroke="#222" stroke-width="0.1">1</text>
<text transform="translate(273.32,418.60)" font-size="7.7" text-anchor="middle" fill="#222" stroke="#222" stroke-width="0.1">0</text>
<text transform="translate(293.18,418.60)" font-size="7.7" text-anchor="middle" fill="#222" stroke="#222" stroke-width="0.1">0</text>
<text transform="translate(313.04,418.60)" font-size="7.7" text-anchor="middle" fill="#222" stroke="#222" stroke-width="0.1">0</text>
<text transform="translate(332.90,418.60)" font-size="7.7" text-anchor="middle" fill="#222" stroke="#222" stroke-width="0.1">0</text>
<text transform="translate(226.00,430.30)" font-size="7.7" text-anchor="end" fill="#e0982e" stroke="#e0982e" stroke-width="0.1">CD44 &gt;90%</text>
<text transform="translate(233.60,430.30)" font-size="7.7" text-anchor="middle" fill="#222" stroke="#222" stroke-width="0.1">58</text>
<text transform="translate(253.46,430.30)" font-size="7.7" text-anchor="middle" fill="#222" stroke="#222" stroke-width="0.1">26</text>
<text transform="translate(273.32,430.30)" font-size="7.7" text-anchor="middle" fill="#222" stroke="#222" stroke-width="0.1">16</text>
<text transform="translate(293.18,430.30)" font-size="7.7" text-anchor="middle" fill="#222" stroke="#222" stroke-width="0.1">13</text>
<text transform="translate(313.04,430.30)" font-size="7.7" text-anchor="middle" fill="#222" stroke="#222" stroke-width="0.1">8</text>
<text transform="translate(332.90,430.30)" font-size="7.7" text-anchor="middle" fill="#222" stroke="#222" stroke-width="0.1">6</text>
<line x1="402.60" y1="313.50" x2="402.60" y2="383.10" stroke="#3a3a3a" stroke-width="1.1"/>
<line x1="399.60" y1="380.40" x2="402.60" y2="380.40" stroke="#3a3a3a" stroke-width="1"/>
<text transform="translate(396.40,383.20)" font-size="8.0" text-anchor="end" fill="#2a2a2a">0%</text>
<line x1="399.60" y1="367.58" x2="402.60" y2="367.58" stroke="#3a3a3a" stroke-width="1"/>
<text transform="translate(396.40,370.38)" font-size="8.0" text-anchor="end" fill="#2a2a2a">20%</text>
<line x1="399.60" y1="354.76" x2="402.60" y2="354.76" stroke="#3a3a3a" stroke-width="1"/>
<text transform="translate(396.40,357.56)" font-size="8.0" text-anchor="end" fill="#2a2a2a">40%</text>
<line x1="399.60" y1="341.94" x2="402.60" y2="341.94" stroke="#3a3a3a" stroke-width="1"/>
<text transform="translate(396.40,344.74)" font-size="8.0" text-anchor="end" fill="#2a2a2a">60%</text>
<line x1="399.60" y1="329.12" x2="402.60" y2="329.12" stroke="#3a3a3a" stroke-width="1"/>
<text transform="translate(396.40,331.92)" font-size="8.0" text-anchor="end" fill="#2a2a2a">80%</text>
<line x1="399.60" y1="316.30" x2="402.60" y2="316.30" stroke="#3a3a3a" stroke-width="1"/>
<text transform="translate(396.40,319.10)" font-size="8.0" text-anchor="end" fill="#2a2a2a">100%</text>
<line x1="402.60" y1="380.40" x2="512.60" y2="380.40" stroke="#3a3a3a" stroke-width="1.3"/>
<line x1="402.60" y1="380.40" x2="402.60" y2="383.10" stroke="#3a3a3a" stroke-width="1"/>
<text transform="translate(402.60,393.40)" font-size="8.4" text-anchor="middle" fill="#2a2a2a" stroke="#222" stroke-width="0.1">0</text>
<line x1="422.74" y1="380.40" x2="422.74" y2="383.10" stroke="#3a3a3a" stroke-width="1"/>
<text transform="translate(422.74,393.40)" font-size="8.4" text-anchor="middle" fill="#2a2a2a" stroke="#222" stroke-width="0.1">1</text>
<line x1="442.88" y1="380.40" x2="442.88" y2="383.10" stroke="#3a3a3a" stroke-width="1"/>
<text transform="translate(442.88,393.40)" font-size="8.4" text-anchor="middle" fill="#2a2a2a" stroke="#222" stroke-width="0.1">2</text>
<line x1="463.02" y1="380.40" x2="463.02" y2="383.10" stroke="#3a3a3a" stroke-width="1"/>
<text transform="translate(463.02,393.40)" font-size="8.4" text-anchor="middle" fill="#2a2a2a" stroke="#222" stroke-width="0.1">3</text>
<line x1="483.16" y1="380.40" x2="483.16" y2="383.10" stroke="#3a3a3a" stroke-width="1"/>
<text transform="translate(483.16,393.40)" font-size="8.4" text-anchor="middle" fill="#2a2a2a" stroke="#222" stroke-width="0.1">4</text>
<line x1="503.30" y1="380.40" x2="503.30" y2="383.10" stroke="#3a3a3a" stroke-width="1"/>
<text transform="translate(503.30,393.40)" font-size="8.4" text-anchor="middle" fill="#2a2a2a" stroke="#222" stroke-width="0.1">5</text>
<text transform="translate(369.60,347.05) rotate(-90) scale(0.6839,1)" font-size="9.2" text-anchor="middle" fill="#222" stroke="#222" stroke-width="0.18">Overall survival</text>
<text transform="translate(457.60,406.70) scale(0.6068,1)" font-size="10.2" text-anchor="middle" fill="#222" stroke="#222" stroke-width="0.05">Years</text>
<text transform="translate(371.10,407.60) scale(0.9032,1)" font-size="7.8" text-anchor="start" fill="#222">Number at risk</text>
<polyline points="402.60,318.50 404.00,318.50 404.00,325.40 405.20,325.40 405.20,330.50 408.30,330.50 409.10,330.50 409.10,333.90 410.80,333.90 410.80,337.40 412.50,337.40 412.50,341.60 415.10,341.60 415.90,341.60 415.90,346.80 417.70,346.80 417.70,352.70 419.40,352.70 419.40,356.20 420.20,356.20 420.20,359.20 449.30,359.20 450.10,359.20 450.10,361.30 485.70,361.30 485.70,363.60 512.60,363.60" fill="none" stroke="#e3961f" stroke-width="1.3" stroke-linejoin="miter"/>
<polyline points="402.60,316.50 405.20,316.50 405.20,332.20 415.10,332.20 415.10,340.80 416.50,340.80 416.80,348.50 417.70,348.50 418.20,348.50 418.20,356.20 428.80,356.20 428.80,364.70 433.00,364.70 433.00,372.30 512.60,372.30" fill="none" stroke="#2f5094" stroke-width="1.3" stroke-linejoin="miter"/>
<line x1="456.29" y1="318.00" x2="464.29" y2="318.00" stroke="#2f5094" stroke-width="1.1"/>
<line x1="460.29" y1="316.40" x2="460.29" y2="319.60" stroke="#2f5094" stroke-width="0.9"/>
<text transform="translate(467.79,320.70)" font-size="7.8" text-anchor="start" fill="#2a2a2a">FLT3 &lt;=75%</text>
<line x1="456.29" y1="329.80" x2="464.29" y2="329.80" stroke="#e3961f" stroke-width="1.1"/>
<line x1="460.29" y1="328.20" x2="460.29" y2="331.40" stroke="#e3961f" stroke-width="0.9"/>
<text transform="translate(467.79,332.50)" font-size="7.8" text-anchor="start" fill="#2a2a2a">FLT3 &gt;75%</text>
<text transform="translate(405.90,375.40)" font-size="7.4" text-anchor="start" fill="#222">p = 0.7</text>
<text transform="translate(395.00,418.60)" font-size="7.7" text-anchor="end" fill="#3d5c9c" stroke="#3d5c9c" stroke-width="0.1">FLT3 &lt;=75%</text>
<text transform="translate(402.60,418.60)" font-size="7.7" text-anchor="middle" fill="#222" stroke="#222" stroke-width="0.1">8</text>
<text transform="translate(422.74,418.60)" font-size="7.7" text-anchor="middle" fill="#222" stroke="#222" stroke-width="0.1">3</text>
<text transform="translate(442.88,418.60)" font-size="7.7" text-anchor="middle" fill="#222" stroke="#222" stroke-width="0.1">1</text>
<text transform="translate(463.02,418.60)" font-size="7.7" text-anchor="middle" fill="#222" stroke="#222" stroke-width="0.1">1</text>
<text transform="translate(483.16,418.60)" font-size="7.7" text-anchor="middle" fill="#222" stroke="#222" stroke-width="0.1">1</text>
<text transform="translate(503.30,418.60)" font-size="7.7" text-anchor="middle" fill="#222" stroke="#222" stroke-width="0.1">1</text>
<text transform="translate(395.00,430.30)" font-size="7.7" text-anchor="end" fill="#e0982e" stroke="#e0982e" stroke-width="0.1">FLT3 &gt;75%</text>
<text transform="translate(402.60,430.30)" font-size="7.7" text-anchor="middle" fill="#222" stroke="#222" stroke-width="0.1">27</text>
<text transform="translate(422.74,430.30)" font-size="7.7" text-anchor="middle" fill="#222" stroke="#222" stroke-width="0.1">9</text>
<text transform="translate(442.88,430.30)" font-size="7.7" text-anchor="middle" fill="#222" stroke="#222" stroke-width="0.1">9</text>
<text transform="translate(463.02,430.30)" font-size="7.7" text-anchor="middle" fill="#222" stroke="#222" stroke-width="0.1">8</text>
<text transform="translate(483.16,430.30)" font-size="7.7" text-anchor="middle" fill="#222" stroke="#222" stroke-width="0.1">8</text>
<text transform="translate(503.30,430.30)" font-size="7.7" text-anchor="middle" fill="#222" stroke="#222" stroke-width="0.1">7</text>
<rect x="0" y="0" width="520" height="1.15" fill="#111"/><rect x="0" y="0" width="1.15" height="439" fill="#111"/><rect x="518.7" y="0" width="1.3" height="439" fill="#111"/><rect x="0" y="437.5" width="520" height="1.5" fill="#111"/>
</svg>
</body></html>
